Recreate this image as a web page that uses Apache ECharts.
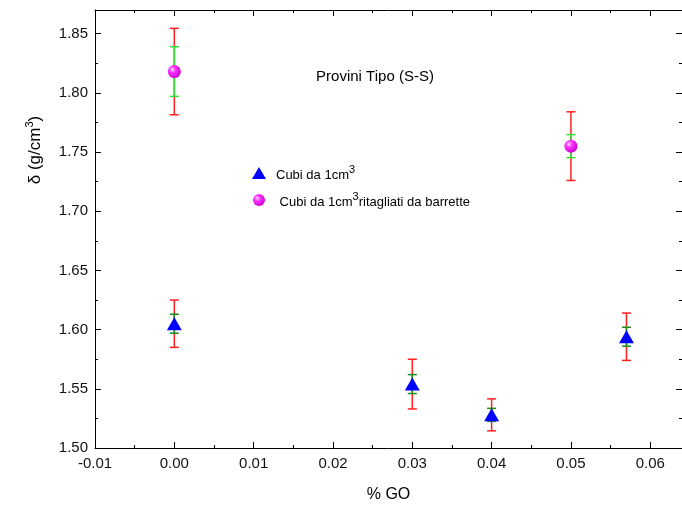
<!DOCTYPE html>
<html>
<head>
<meta charset="utf-8" />
<title>Provini Tipo (S-S)</title>
<script type="text/javascript" src="https://cdn.jsdelivr.net/npm/echarts@6/dist/echarts.min.js"></script>
<style type="text/css">
html, body {
	width: 100%;
	height: 100%;
	margin: 0;
	background: #fff;
}
#main {
	width: 682px;
	height: 508px;
}
</style>
</head>
<body>
<div id="main"></div>
<script type="text/javascript">
// cubi da 1 cm3
var cubiX = [0.00, 0.03, 0.04, 0.057];
var cubiY = [1.605, 1.554, 1.528, 1.594];
var cubiErrRed = [0.020, 0.021, 0.0135, 0.020];
var cubiErrGreen = [0.008, 0.008, 0.0055, 0.008];

// cubi ritagliati da barrette
var barretteX = [0.00, 0.05];
var barretteY = [1.818, 1.755];
var barretteErrRed = [0.0365, 0.029];
var barretteErrGreen = [0.021, 0.0097];

var xTicks = { min: -0.01, max: 0.064, step: 0.01 };
var yTicks = { min: 1.50, max: 1.87, step: 0.05 };

var FONT = '"Liberation Sans", Arial, sans-serif';

function rows(xs, ys, es) {
    return xs.map(function (x, i) { return [x, ys[i], es[i]]; });
}

function errorBar(color) {
    return function (params, api) {
        var x = api.value(0), y = api.value(1), e = api.value(2);
        var top = api.coord([x, y + e]);
        var bot = api.coord([x, y - e]);
        var st = { stroke: color, lineWidth: 1.5 };
        var w = 4.5;
        return {
            type: 'group',
            children: [
                { type: 'line', shape: { x1: top[0], y1: top[1], x2: bot[0], y2: bot[1] }, style: st },
                { type: 'line', shape: { x1: top[0] - w, y1: top[1], x2: top[0] + w, y2: top[1] }, style: st },
                { type: 'line', shape: { x1: bot[0] - w, y1: bot[1], x2: bot[0] + w, y2: bot[1] }, style: st }
            ]
        };
    };
}

var chart = echarts.init(document.getElementById('main'), null, { renderer: 'canvas' });

var axisLine = { show: true, onZero: false, lineStyle: { color: '#000', width: 1 } };
var tickIn = { show: true, inside: true, length: 6, lineStyle: { color: '#000' } };
var minorIn = { show: true, splitNumber: 2, length: 3, lineStyle: { color: '#000' } };

var names = ['Cubi da 1cm3', ' Cubi da 1cm3ritagliati da barrette'];

var option = {
    animation: false,
    backgroundColor: '#fff',
    grid: { left: 95, top: 10, right: -3, bottom: 60 },
    legend: {
        orient: 'vertical',
        left: 247,
        top: 159,
        itemWidth: 14,
        itemHeight: 12,
        itemGap: 9,
        data: names,
        formatter: function (n) {
            if (n === names[0]) return '{f|Cubi da 1cm}{s|3}';
            return '{f| Cubi da 1cm}{s|3}{a|ritagliati da barrette}';
        },
        textStyle: {
            fontFamily: FONT,
            rich: {
                f: { fontSize: 13, color: '#000', fontFamily: FONT, verticalAlign: 'bottom', padding: [0, 0, 0, 5] },
                a: { fontSize: 13, color: '#000', fontFamily: FONT, verticalAlign: 'bottom' },
                s: { fontSize: 11, color: '#000', fontFamily: FONT, verticalAlign: 'bottom', padding: [0, 0, 7, 0] }
            }
        }
    },
    xAxis: [{
        type: 'value',
        position: 'bottom',
        min: xTicks.min,
        max: xTicks.max,
        interval: xTicks.step,
        name: '% GO',
        nameLocation: 'middle',
        nameGap: 39,
        nameTextStyle: { fontFamily: FONT, fontSize: 16, color: '#000' },
        axisLine: axisLine,
        axisTick: tickIn,
        minorTick: minorIn,
        splitLine: { show: false },
        axisLabel: {
            fontFamily: FONT, fontSize: 15, color: '#111', margin: 8,
            showMaxLabel: false,
            formatter: function (v) { return v.toFixed(2); }
        }
    }, {
        type: 'value',
        position: 'top',
        min: xTicks.min,
        max: xTicks.max,
        interval: xTicks.step,
        axisLine: axisLine,
        axisTick: tickIn,
        minorTick: minorIn,
        splitLine: { show: false },
        axisLabel: { show: false }
    }],
    yAxis: [{
        type: 'value',
        position: 'left',
        min: yTicks.min,
        max: yTicks.max,
        interval: yTicks.step,
        axisLine: axisLine,
        axisTick: tickIn,
        minorTick: minorIn,
        splitLine: { show: false },
        axisLabel: {
            fontFamily: FONT, fontSize: 15, color: '#111', margin: 7,
            showMaxLabel: false,
            formatter: function (v) { return v.toFixed(2); }
        }
    }, {
        type: 'value',
        position: 'right',
        min: yTicks.min,
        max: yTicks.max,
        interval: yTicks.step,
        axisLine: axisLine,
        axisTick: tickIn,
        minorTick: minorIn,
        splitLine: { show: false },
        axisLabel: { show: false }
    }],
    graphic: [{
        type: 'text',
        x: 375,
        y: 77,
        style: {
            text: 'Provini Tipo (S-S)',
            font: '15px ' + FONT,
            fill: '#000',
            textAlign: 'center',
            textVerticalAlign: 'middle'
        }
    }, {
        type: 'text',
        x: 34,
        y: 150,
        rotation: Math.PI / 2,
        style: {
            text: '{a|δ (g/cm}{s|3}{a|)}',
            textAlign: 'center',
            textVerticalAlign: 'middle',
            rich: {
                a: { fontSize: 17, fontFamily: FONT, fill: '#000', verticalAlign: 'bottom' },
                s: { fontSize: 11, fontFamily: FONT, fill: '#000', verticalAlign: 'bottom', padding: [0, 0, 8, 0] }
            }
        }
    }],
    series: [{
        type: 'custom',
        renderItem: errorBar('#ff2020'),
        data: rows(cubiX, cubiY, cubiErrRed),
        z: 2
    }, {
        type: 'custom',
        renderItem: errorBar('#1e8a1e'),
        data: rows(cubiX, cubiY, cubiErrGreen),
        z: 3
    }, {
        type: 'custom',
        renderItem: errorBar('#ff2020'),
        data: rows(barretteX, barretteY, barretteErrRed),
        z: 2
    }, {
        type: 'custom',
        renderItem: errorBar('#33e033'),
        data: rows(barretteX, barretteY, barretteErrGreen),
        z: 3
    }, {
        name: names[0],
        type: 'scatter',
        symbol: 'triangle',
        symbolSize: [15, 13],
        itemStyle: { color: '#0000ff', opacity: 1 },
        data: cubiX.map(function (x, i) { return [x, cubiY[i]]; }),
        z: 5
    }, {
        name: names[1],
        type: 'scatter',
        symbol: 'circle',
        symbolSize: 13,
        itemStyle: {
            opacity: 1,
            color: {
                type: 'radial', x: 0.35, y: 0.35, r: 0.7,
                colorStops: [
                    { offset: 0, color: '#ffe0ff' },
                    { offset: 0.35, color: '#ff33ff' },
                    { offset: 1, color: '#cc00cc' }
                ]
            }
        },
        data: barretteX.map(function (x, i) { return [x, barretteY[i]]; }),
        z: 5
    }]
};

chart.setOption(option);
</script>
</body>
</html>
